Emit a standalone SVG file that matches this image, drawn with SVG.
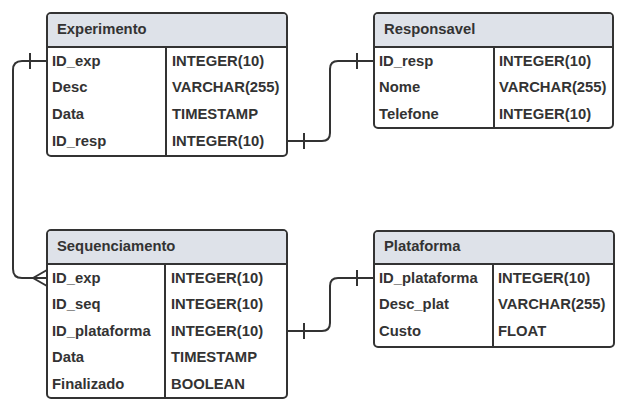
<svg xmlns="http://www.w3.org/2000/svg" width="617" height="399" viewBox="0 0 617 399">
<style>
.box{fill:#ffffff;stroke:#333333;stroke-width:2}
.hdr{fill:#dee2e9}
.ln{stroke:#333333;stroke-width:2;fill:none}
.t{font-family:"Liberation Sans",Arial,sans-serif;font-weight:bold;font-size:14.8px;fill:#333333}
.c{fill:none;stroke:#333333;stroke-width:2;stroke-linejoin:round}
</style>
<rect width="617" height="399" fill="#ffffff"/>
<g id="connectors">
  <path class="c" d="M47 61 H22 Q13 61 13 70 V269 Q13 278 22 278 H47"/>
  <path class="c" d="M30 53 V69"/>
  <path class="c" d="M47 270 L33 278 L47 286"/>
  <path class="c" d="M287 141 H322 Q330 141 330 133 V69 Q330 61 338 61 H374"/>
  <path class="c" d="M304 133 V149"/>
  <path class="c" d="M357 53 V69"/>
  <path class="c" d="M287 331 H322 Q330 331 330 323 V286 Q330 278 338 278 H374"/>
  <path class="c" d="M304 323 V339"/>
  <path class="c" d="M357 270 V286"/>
</g>
<g id="experimento">
  <rect class="box" x="47" y="13" width="240" height="143" rx="4"/>
  <path class="hdr" d="M48 17 Q48 14 51 14 H283 Q286 14 286 17 V46 H48 Z"/>
  <path class="ln" d="M47 47 H287 M166 47 V156"/>
  <text class="t" x="57" y="34">Experimento</text>
  <text class="t" x="52" y="66">ID_exp</text>
  <text class="t" x="52" y="92">Desc</text>
  <text class="t" x="52" y="119">Data</text>
  <text class="t" x="52" y="146">ID_resp</text>
  <text class="t" x="172" y="66">INTEGER(10)</text>
  <text class="t" x="172" y="92">VARCHAR(255)</text>
  <text class="t" x="172" y="119">TIMESTAMP</text>
  <text class="t" x="172" y="146">INTEGER(10)</text>
</g>
<g id="responsavel">
  <rect class="box" x="374" y="13" width="239" height="115" rx="4"/>
  <path class="hdr" d="M375 17 Q375 14 378 14 H609 Q612 14 612 17 V46 H375 Z"/>
  <path class="ln" d="M374 47 H613 M494 47 V128"/>
  <text class="t" x="384" y="34">Responsavel</text>
  <text class="t" x="379" y="66">ID_resp</text>
  <text class="t" x="379" y="92">Nome</text>
  <text class="t" x="379" y="119">Telefone</text>
  <text class="t" x="499" y="66">INTEGER(10)</text>
  <text class="t" x="499" y="92">VARCHAR(255)</text>
  <text class="t" x="499" y="119">INTEGER(10)</text>
</g>
<g id="sequenciamento">
  <rect class="box" x="47" y="230" width="240" height="168" rx="4"/>
  <path class="hdr" d="M48 234 Q48 231 51 231 H283 Q286 231 286 234 V263 H48 Z"/>
  <path class="ln" d="M47 264 H287 M165 264 V398"/>
  <text class="t" x="57" y="251">Sequenciamento</text>
  <text class="t" x="52" y="283">ID_exp</text>
  <text class="t" x="52" y="309">ID_seq</text>
  <text class="t" x="52" y="336">ID_plataforma</text>
  <text class="t" x="52" y="362">Data</text>
  <text class="t" x="52" y="389">Finalizado</text>
  <text class="t" x="171" y="283">INTEGER(10)</text>
  <text class="t" x="171" y="309">INTEGER(10)</text>
  <text class="t" x="171" y="336">INTEGER(10)</text>
  <text class="t" x="171" y="362">TIMESTAMP</text>
  <text class="t" x="171" y="389">BOOLEAN</text>
</g>
<g id="plataforma">
  <rect class="box" x="374" y="231" width="240" height="116" rx="4"/>
  <path class="hdr" d="M375 235 Q375 232 378 232 H610 Q613 232 613 235 V263 H375 Z"/>
  <path class="ln" d="M374 264 H614 M493 264 V347"/>
  <text class="t" x="384" y="251">Plataforma</text>
  <text class="t" x="379" y="283">ID_plataforma</text>
  <text class="t" x="379" y="309">Desc_plat</text>
  <text class="t" x="379" y="336">Custo</text>
  <text class="t" x="498" y="283">INTEGER(10)</text>
  <text class="t" x="498" y="309">VARCHAR(255)</text>
  <text class="t" x="498" y="336">FLOAT</text>
</g>
</svg>
